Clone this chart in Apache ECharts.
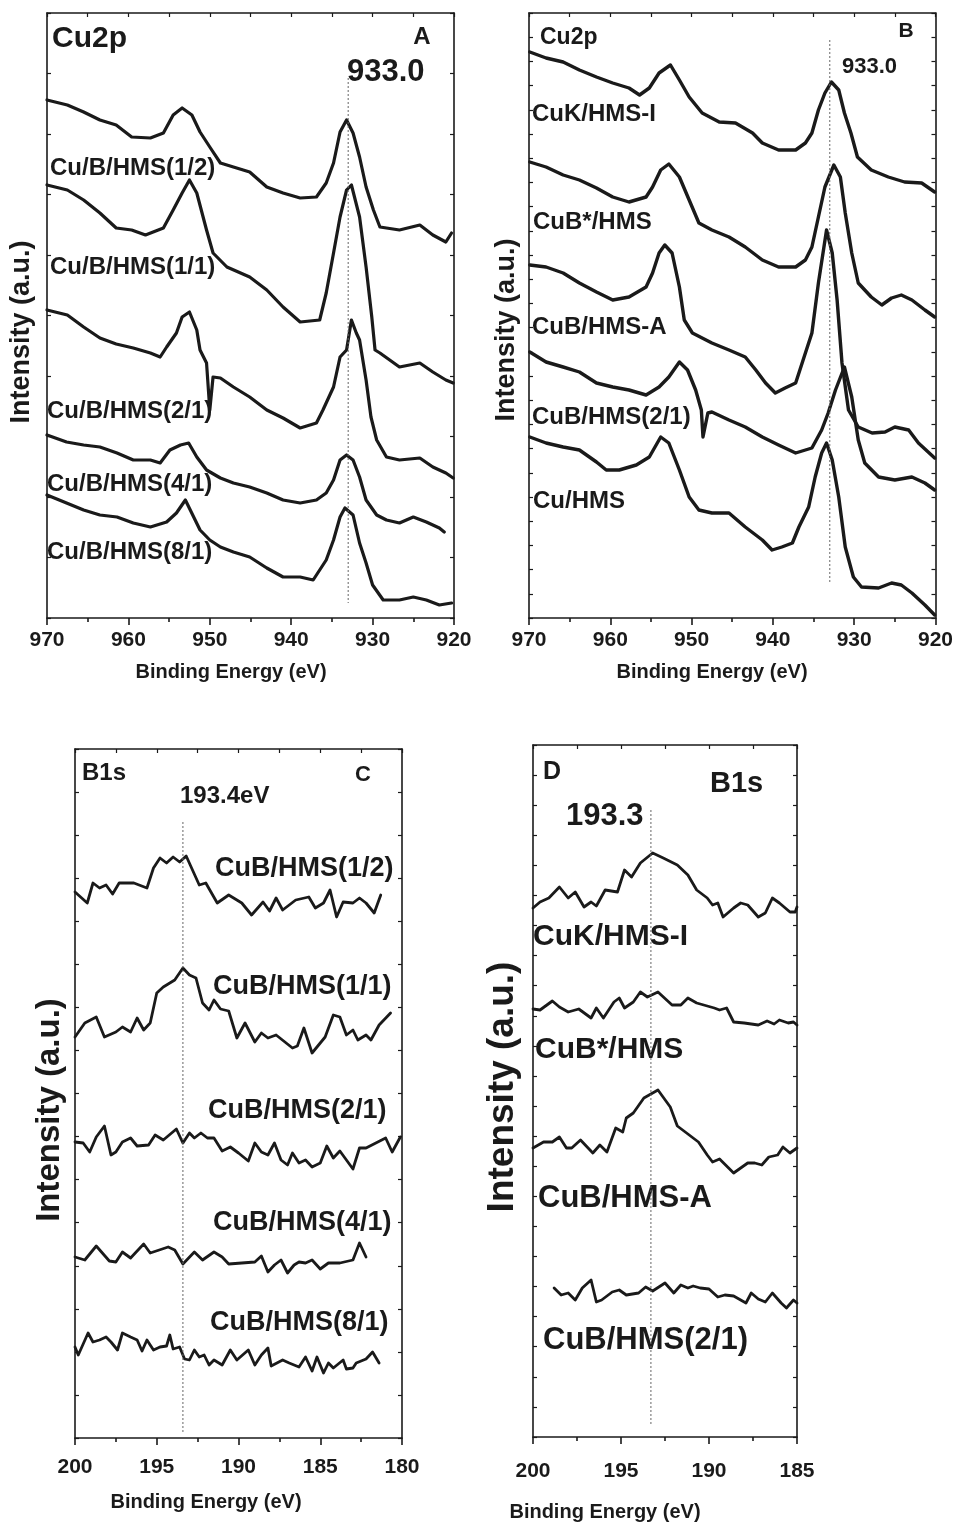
<!DOCTYPE html>
<html><head><meta charset="utf-8">
<script src="https://cdn.jsdelivr.net/npm/echarts@6/dist/echarts.min.js"></script>
<style>html,body{margin:0;padding:0;background:#fff}#c{width:956px;height:1523px}</style>
</head><body><div id="c"></div>
<script>
// ---------- Panel A : Cu2p, Cu/B/HMS series ----------
const A_1_2_E = [970,967.5,965.5,963.5,961.5,959.6,957.3,955.7,954.5,953.4,952.2,951.2,950,948.7,947.1,945.1,943,941,938.9,936.9,935.7,934.8,934,933.2,932.4,931.6,930.8,929.9,929.1,926.7,924.2,922.6,921,920.3];
const A_1_2_I = [518,513,506,498,493,481,480,485,503,510,503,486,471,455,451,446,431,425,420,421,435,455,486,498,485,461,431,408,391,388,393,383,376,385];
const A_1_1_E = [970,967.5,965.5,963.5,961.5,959.6,957.9,955.7,954.5,953.4,952.5,951.6,950.4,949.6,947.9,945.1,943,941,938.9,936.5,935.7,934.8,934,933.2,932.6,931.6,930.8,930.1,929.7,929.1,926.7,924.2,922.6,921,920.1];
const A_1_1_I = [433,428,418,405,390,388,383,390,408,425,438,425,388,365,351,341,328,311,296,298,325,365,401,428,433,401,351,301,268,265,251,255,246,238,235];
const A_2_1_E = [970,967.5,965.5,963.5,961.5,959.4,957.3,956.1,955.3,954.1,953.4,952.5,951.6,951.2,950.4,950.0,949.6,948.7,947.1,945.1,943,941,938.9,936.9,936.1,934.8,934,933.2,932.6,932,931.6,930.8,930.2,929.5,928.3,926.7,924.2,922.6,921,920.1];
const A_2_1_I = [308,303,291,280,274,270,265,261,271,285,301,306,288,268,255,208,241,240,231,221,208,200,190,195,208,231,261,268,298,285,278,238,201,178,161,158,160,151,145,140];
const A_4_1_E = [970,967.6,965.5,963.5,961.4,959.4,957.3,956.1,954.9,953.6,952.6,951.6,950.4,948.7,947.1,945.1,943,941,938.9,936.9,935.7,934.8,934,933.2,932.4,931.6,930.8,929.5,928.3,926.7,925,923.4,921.8,921.2];
const A_4_1_I = [183,176,173,171,165,158,158,155,168,173,175,161,148,140,135,131,125,118,115,118,125,138,158,163,158,141,118,103,98,95,101,96,90,86];
const A_8_1_E = [970,967.6,965.5,963.5,961.4,959.4,957.3,955.3,954.1,953.0,952.4,951.2,950,948.7,947.1,945.1,943,941,938.9,937.3,936.5,935.7,934.8,934,933.4,932.4,931.6,930.8,930,928.7,926.7,925,923.4,921.8,920.3];
const A_8_1_I = [123,115,108,103,101,95,91,96,105,118,108,88,78,71,66,61,50,41,41,38,48,58,78,101,110,103,75,55,33,18,18,21,18,13,15];
const A_LABELS = ['Cu/B/HMS(1/2)','Cu/B/HMS(1/1)','Cu/B/HMS(2/1)','Cu/B/HMS(4/1)','Cu/B/HMS(8/1)'];
const A_PEAK = 933.0, A_PEAK_SPAN = [540, 15];

// ---------- Panel B : Cu2p, other samples ----------
const B_K_E = [969.9,967.9,965.8,963.8,961.7,959.7,957.7,956.4,955.2,954.0,952.6,951.5,950.3,948.7,946.6,944.6,942.5,941.3,939.3,937.2,936.0,935.2,934.4,933.6,932.8,931.9,931.2,930.4,929.6,927.9,925.8,923.8,921.7,920.1];
const B_K_I = [566,560,556,548,541,535,530,523,530,545,553,538,521,505,496,495,485,475,468,468,475,485,508,525,536,528,505,485,461,448,441,436,435,426];
const B_S_E = [969.9,967.9,965.8,963.8,961.7,959.7,957.7,955.6,954.8,953.8,952.8,951.5,950.3,949.1,947.5,945.4,943.4,941.3,939.3,937.2,936.0,935.2,934.4,933.6,932.5,931.7,931.1,930.3,929.5,927.9,926.6,925.4,924.2,922.9,921.3,920.1];
const B_S_I = [456,451,443,438,430,421,416,421,431,448,454,441,418,395,388,381,371,358,351,351,358,371,401,431,453,441,405,365,335,321,313,320,323,318,308,301];
const B_A_E = [969.9,967.9,965.8,963.8,961.7,959.7,957.7,955.6,954.8,954.0,953.3,952.4,951.5,950.9,949.9,947.5,945.4,943.4,942.1,940.9,939.7,938.5,937.2,936.4,935.2,934.4,933.4,932.7,932.1,931.5,930.7,929.5,927.8,926.2,925.0,923.3,922.1,920.1];
const B_A_I = [353,351,345,335,326,318,321,331,345,365,373,365,331,298,285,275,268,261,248,235,225,230,235,255,285,335,388,365,318,255,208,191,185,186,191,188,175,160];
const B_21_E = [969.9,967.9,965.8,963.8,961.7,959.7,957.7,955.6,954.0,952.8,951.5,950.5,949.5,948.8,948.6,948.0,947.5,945.4,943.4,941.3,939.3,937.2,935.2,934.0,933.2,932.3,931.2,930.3,929.5,928.7,927.0,925.0,922.9,921.3,920.1];
const B_21_I = [266,256,251,246,235,231,228,223,231,241,256,248,228,208,181,205,206,198,191,181,173,165,170,188,205,228,251,221,178,155,141,138,141,135,128];
const B_CU_E = [969.9,967.9,965.8,963.8,961.7,960.5,958.9,956.8,955.2,953.8,952.8,951.5,950.3,949.1,947.5,945.4,943.4,941.3,940.1,938.9,937.6,936.8,935.6,934.8,934.0,933.4,932.7,931.9,931.1,930.1,929.1,927.0,925.4,924.2,922.9,921.3,920.1];
const B_CU_I = [181,175,171,168,156,148,148,153,161,181,175,148,121,108,105,105,91,78,68,71,75,91,111,141,165,175,158,121,71,41,31,30,35,33,25,13,3];
const B_LABELS = ['CuK/HMS-I','CuB*/HMS','CuB/HMS-A','CuB/HMS(2/1)','Cu/HMS'];
const B_PEAK = 933.0, B_PEAK_SPAN = [578, 36];

// ---------- Panel C : B1s, CuB/HMS series ----------
const C_1_2_E = [200,199.25,198.9,198.5,198.1,197.7,197.3,196.4,195.6,195.2,194.8,194.4,194,193.6,193.2,192.4,192,191.3,190.6,189.8,189.2,188.5,188.1,187.7,187.3,186.5,185.7,185.3,184.8,184.4,184,183.6,183,182.6,182.2,181.7,181.3];
const C_1_2_I = [546,535,555,550,553,544,555,555,550,570,580,575,581,576,582,553,555,535,543,535,523,536,527,540,528,538,541,530,535,548,521,536,535,540,535,525,543];
const C_1_1_E = [200,199.4,198.7,198.2,197.5,197.1,196.6,196.2,195.8,195.4,195,194.6,193.9,193.4,193,192.6,192.2,191.8,191.5,191.1,190.6,190.1,189.6,189,188.6,188.2,187.7,186.7,186.4,186,185.5,184.7,184.2,183.8,183.4,183,182.7,182.2,181.9,181.4,180.7];
const C_1_1_I = [401,415,421,401,406,411,406,420,408,415,445,451,458,470,463,460,435,428,438,429,427,400,415,396,405,400,403,390,392,410,385,401,423,421,403,408,398,403,398,413,425];
const C_2_1_E = [200,199.5,199.1,198.7,198.2,197.8,197.5,197.1,196.6,196.2,195.5,195.1,194.6,193.8,193.4,193,192.7,192.3,191.9,191.5,191,190.5,190,189.4,189,188.6,188.2,187.8,187.4,187,186.7,186.3,185.9,185.5,185,184.6,184.2,183.8,183,182.6,182.2,181,180.6,180.1];
const C_2_1_I = [296,295,286,301,312,283,286,296,300,292,293,303,298,309,295,305,300,305,300,300,287,291,285,277,295,286,283,295,278,273,285,275,278,271,275,292,280,287,269,290,290,300,286,301];
const C_4_1_E = [200,199.4,198.7,197.9,197.5,197.1,196.6,195.8,195.4,194.3,193.9,193.4,192.7,192.2,191.5,191,190.6,189,188.6,188.2,187.8,187.4,187,186.6,186.3,185.9,185.5,185,184.5,183.8,183,182.6,182.2];
const C_4_1_I = [181,178,192,177,176,186,180,194,185,191,188,174,186,178,186,181,174,176,182,166,173,178,165,173,176,175,178,169,175,175,178,195,181];
const C_8_1_E = [200,199.8,199.2,198.9,198.5,198.1,197.8,197.4,197.1,196.6,196.2,195.9,195.6,195.2,194.8,194.4,194.2,194,193.6,193.3,193,192.7,192.4,192.1,191.8,191.5,191,190.5,190.1,189.4,189,188.6,188.2,188,187.3,186.9,186.3,185.9,185.5,185.2,184.8,184.5,184.2,183.6,183.4,183,182.8,182.2,181.8,181.4];
const C_8_1_I = [91,83,105,96,98,101,96,88,105,101,98,87,98,88,91,92,103,89,91,79,78,88,81,83,73,78,73,88,78,88,73,83,90,72,78,75,71,81,67,81,65,75,70,78,69,70,75,79,86,75];
const C_LABELS = ['CuB/HMS(1/2)','CuB/HMS(1/1)','CuB/HMS(2/1)','CuB/HMS(4/1)','CuB/HMS(8/1)'];
const C_PEAK = 193.4, C_PEAK_SPAN = [616, 5];

// ---------- Panel D : B1s, other samples ----------
const D_K_E = [200,199.6,199.1,198.5,198,197.6,197.1,196.7,196.4,195.9,195.2,194.8,194.4,193.9,193.2,192.6,191.8,191.2,190.7,190.1,189.8,189.5,189.2,188.6,188.2,187.8,187.2,186.8,186.4,186,185.4,185.1,185];
const D_K_I = [529,535,539,550,539,545,530,535,531,547,545,567,560,574,584,579,572,562,547,539,532,534,520,529,534,532,520,524,539,534,525,525,530];
const D_S_E = [200,199.6,198.9,198.5,198,197.4,196.7,196.4,196,195.4,195.1,194.8,194.3,193.9,193.5,192.9,192.1,191.6,191.2,190.7,189.7,189.4,189,188.6,188,187.2,186.7,186.3,186,185.5,185.2,185];
const D_S_I = [428,427,436,430,425,428,419,429,419,435,439,429,435,445,440,445,432,432,439,434,429,427,429,415,414,412,416,413,417,414,415,412];
const D_A_E = [200,199.4,198.9,198.5,198.1,197.8,197.3,196.6,196.2,195.8,195.3,194.9,194.7,194.3,193.7,192.9,192.2,191.8,190.6,190.1,189.8,189.4,188.6,187.8,187.4,187,186.6,186.1,185.8,185.4,185];
const D_A_I = [289,295,295,300,289,289,297,284,292,285,309,305,319,324,339,347,330,311,295,282,275,278,264,274,274,272,280,282,290,284,289];
const D_21_E = [198.8,198.4,198,197.6,197.2,196.7,196.4,196.1,195.5,195.1,194.7,194,193.6,193.2,192.5,192,191.6,191.2,190.9,190.5,190,189.5,189.1,188.6,187.9,187.6,187.2,186.8,186.4,185.9,185.6,185.2,185];
const D_21_I = [149,142,144,137,149,157,135,137,145,147,142,144,150,146,154,144,152,149,151,149,148,140,142,141,134,144,138,135,144,134,129,137,134];
const D_LABELS = ['CuK/HMS-I','CuB*/HMS','CuB/HMS-A','CuB/HMS(2/1)'];
const D_PEAK = 193.3, D_PEAK_SPAN = [627, 12];

const X_TITLE = 'Binding Energy (eV)';
const Y_TITLE = 'Intensity (a.u.)';

// ---------- build ----------
const FONT = '"Liberation Sans", Arial, Helvetica, sans-serif';
const INK = '#1a1a1a';
const zip = (e, v) => e.map((x, i) => [x, v[i]]);

const panels = [
  {grid:{left:47, top:13, width:407, height:605}, xmin:920, xmax:970, major:10, topInt:5, ymax:605, yInt:60.5, margin:12, lw:3.2,
   series:[[A_1_2_E,A_1_2_I],[A_1_1_E,A_1_1_I],[A_2_1_E,A_2_1_I],[A_4_1_E,A_4_1_I],[A_8_1_E,A_8_1_I]], peak:A_PEAK, span:A_PEAK_SPAN},
  {grid:{left:529, top:13, width:408, height:605}, xmin:920, xmax:970, major:10, topInt:5, ymax:605, yInt:24.2, margin:12, lw:3.4,
   series:[[B_K_E,B_K_I],[B_S_E,B_S_I],[B_A_E,B_A_I],[B_21_E,B_21_I],[B_CU_E,B_CU_I]], peak:B_PEAK, span:B_PEAK_SPAN},
  {grid:{left:75, top:749, width:327, height:689}, xmin:180, xmax:200, major:5, topInt:2.5, ymax:689, yInt:689/16, margin:19, lw:2.8,
   series:[[C_1_2_E,C_1_2_I],[C_1_1_E,C_1_1_I],[C_2_1_E,C_2_1_I],[C_4_1_E,C_4_1_I],[C_8_1_E,C_8_1_I]], peak:C_PEAK, span:C_PEAK_SPAN},
  {grid:{left:533, top:745, width:264, height:692}, xmin:185, xmax:200, major:5, topInt:2.5, ymax:692, yInt:692/23, margin:24, lw:2.8,
   series:[[D_K_E,D_K_I],[D_S_E,D_S_I],[D_A_E,D_A_I],[D_21_E,D_21_I]], peak:D_PEAK, span:D_PEAK_SPAN}
];

const grid = [], xAxis = [], yAxis = [], series = [];
const axLine = {show:true, onZero:false, lineStyle:{color:INK, width:1.6}};
panels.forEach((p, g) => {
  grid.push(Object.assign({containLabel:false}, p.grid));
  xAxis.push({gridIndex:g, type:'value', position:'bottom', min:p.xmin, max:p.xmax, interval:p.major, inverse:true,
    axisLine:axLine, axisTick:{show:true, inside:false, length:7, lineStyle:{color:INK, width:1.6}},
    minorTick:{show:true, splitNumber:2, length:4, lineStyle:{color:INK, width:1.6}},
    splitLine:{show:false}, minorSplitLine:{show:false},
    axisLabel:{show:true, margin:p.margin, fontSize:21, fontWeight:'bold', color:INK, fontFamily:FONT, showMinLabel:true, showMaxLabel:true}});
  xAxis.push({gridIndex:g, type:'value', position:'top', min:p.xmin, max:p.xmax, interval:p.topInt, inverse:true,
    axisLine:axLine, axisTick:{show:true, inside:true, length:4, lineStyle:{color:INK, width:1.2}},
    splitLine:{show:false}, axisLabel:{show:false}});
  yAxis.push({gridIndex:g, type:'value', position:'left', min:0, max:p.ymax, interval:p.yInt,
    axisLine:axLine, axisTick:{show:true, inside:true, length:4, lineStyle:{color:INK, width:1.2}},
    splitLine:{show:false}, axisLabel:{show:false}});
  yAxis.push({gridIndex:g, type:'value', position:'right', min:0, max:p.ymax, interval:p.yInt,
    axisLine:axLine, axisTick:{show:true, inside:true, length:4, lineStyle:{color:INK, width:1.2}},
    splitLine:{show:false}, axisLabel:{show:false}});
  p.series.forEach(([e, v]) => series.push({type:'line', xAxisIndex:2*g, yAxisIndex:2*g, data:zip(e, v),
    symbol:'none', lineStyle:{color:INK, width:p.lw, join:'round', cap:'round'}, silent:true, animation:false}));
  series.push({type:'line', xAxisIndex:2*g, yAxisIndex:2*g, data:[[p.peak, p.span[0]],[p.peak, p.span[1]]],
    symbol:'none', lineStyle:{color:'#666', width:1, type:[2,2]}, silent:true, animation:false});
});

function txt(t, x, y, size, opts) {
  opts = opts || {};
  return {type:'text', x:x, y:y, rotation:opts.rot || 0, silent:true,
    style:{text:t, font:'bold ' + size + 'px ' + FONT, fill:INK,
      align:opts.align || 'left', verticalAlign:'middle', textAlign:opts.align || 'left', textVerticalAlign:'middle'}};
}
const R = Math.PI / 2;
const graphic = [
  // axis titles
  txt(X_TITLE, 231, 672, 20, {align:'center'}),
  txt(X_TITLE, 712, 672, 20, {align:'center'}),
  txt(X_TITLE, 206, 1502, 20, {align:'center'}),
  txt(X_TITLE, 605, 1512, 20, {align:'center'}),
  txt(Y_TITLE, 22, 332, 27, {align:'center', rot:R}),
  txt(Y_TITLE, 507, 330, 27, {align:'center', rot:R}),
  txt(Y_TITLE, 50, 1110, 33, {align:'center', rot:R}),
  txt(Y_TITLE, 503, 1087, 37, {align:'center', rot:R}),
  // panel A
  txt('Cu2p', 52, 39, 30), txt('A', 422, 37, 24, {align:'center'}), txt('933.0', 347, 72, 31),
  txt(A_LABELS[0], 50, 168, 24), txt(A_LABELS[1], 50, 267, 24), txt(A_LABELS[2], 47, 411, 24),
  txt(A_LABELS[3], 47, 484, 24), txt(A_LABELS[4], 47, 552, 24),
  // panel B
  txt('Cu2p', 540, 38, 23), txt('B', 906, 31, 21, {align:'center'}), txt('933.0', 842, 67, 22),
  txt(B_LABELS[0], 532, 114, 24), txt(B_LABELS[1], 533, 222, 24), txt(B_LABELS[2], 532, 327, 24),
  txt(B_LABELS[3], 532, 417, 24), txt(B_LABELS[4], 533, 501, 24),
  // panel C
  txt('B1s', 82, 773, 24), txt('C', 363, 775, 22, {align:'center'}), txt('193.4eV', 180, 796, 24),
  txt(C_LABELS[0], 215, 869, 27), txt(C_LABELS[1], 213, 987, 27), txt(C_LABELS[2], 208, 1111, 27),
  txt(C_LABELS[3], 213, 1223, 27), txt(C_LABELS[4], 210, 1323, 27),
  // panel D
  txt('D', 552, 772, 25, {align:'center'}), txt('B1s', 710, 784, 29), txt('193.3', 566, 816, 31),
  txt(D_LABELS[0], 533, 937, 30), txt(D_LABELS[1], 535, 1050, 30), txt(D_LABELS[2], 538, 1198, 31),
  txt(D_LABELS[3], 543, 1340, 31)
];

const chart = echarts.init(document.getElementById('c'), null, {renderer:'canvas'});
chart.setOption({animation:false, backgroundColor:'#fff', grid, xAxis, yAxis, series, graphic});
</script></body></html>
